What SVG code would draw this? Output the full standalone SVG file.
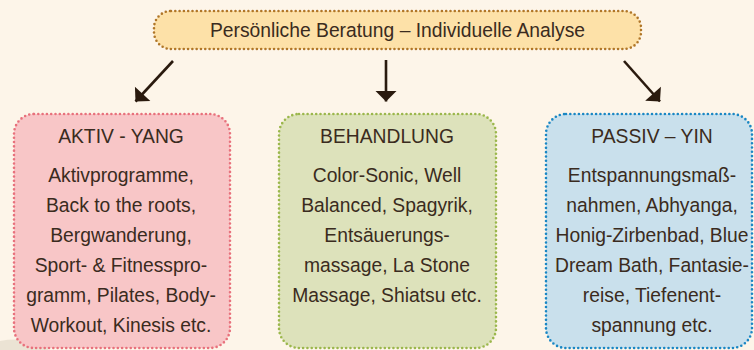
<svg xmlns="http://www.w3.org/2000/svg" width="754" height="350" viewBox="0 0 754 350">
<defs>
<style>
text{font-family:"Liberation Sans",Arial,sans-serif;font-size:19.3px;fill:#3a2b20;text-anchor:middle}
.box{stroke-width:2.6;stroke-dasharray:0 4.3;stroke-linecap:round}
.conn{stroke:#2a1a0e;stroke-width:2.6;fill:none}
</style>
<marker id="ah" viewBox="-11 -11 12 22" refX="0" refY="0" markerWidth="12" markerHeight="22" markerUnits="userSpaceOnUse" orient="auto">
<path d="M-10.5,-10.5 L0,0 L-10.5,10.5 z" fill="#2a1a0e"/>
</marker>
</defs>
<rect width="754" height="350" fill="#fdf5e9"/>
<path d="M0,341 Q20,337 48,344 L48,350 L0,350 z" fill="#ebe3d4"/>
<g id="top">
<rect class="box" x="154" y="11" width="487" height="38" rx="17" fill="#fde1a8" stroke="#b07628"/>
<text x="397.5" y="37">Persönliche Beratung – Individuelle Analyse</text>
</g>
<g id="connectors">
<path class="conn" d="M173,61 L135.5,101.5" marker-end="url(#ah)"/>
<path class="conn" d="M386,60 L386,101.5" marker-end="url(#ah)"/>
<path class="conn" d="M624,61 L660,101.5" marker-end="url(#ah)"/>
</g>
<g id="aktiv">
<rect class="box" x="14" y="114" width="216" height="234" rx="20" fill="#f8c6c7" stroke="#e8717c"/>
<text x="121" y="143">AKTIV - YANG</text>
<text x="121" y="182">Aktivprogramme,</text>
<text x="121" y="212">Back to the roots,</text>
<text x="121" y="242">Bergwanderung,</text>
<text x="121" y="272">Sport- &amp; Fitnesspro-</text>
<text x="121" y="302">gramm, Pilates, Body-</text>
<text x="121" y="332">Workout, Kinesis etc.</text>
</g>
<g id="behandlung">
<rect class="box" x="279" y="114" width="217" height="234" rx="20" fill="#dde2bb" stroke="#9bb74c"/>
<text x="387" y="143">BEHANDLUNG</text>
<text x="387" y="182">Color-Sonic, Well</text>
<text x="387" y="212">Balanced, Spagyrik,</text>
<text x="387" y="242">Entsäuerungs-</text>
<text x="387" y="272">massage, La Stone</text>
<text x="387" y="302">Massage, Shiatsu etc.</text>
</g>
<g id="passiv">
<rect class="box" x="546" y="114" width="206" height="234" rx="20" fill="#c9e0ec" stroke="#1a87c4"/>
<text x="652" y="143">PASSIV – YIN</text>
<text x="652" y="182">Entspannungsmaß-</text>
<text x="652" y="212">nahmen, Abhyanga,</text>
<text x="652" y="242">Honig-Zirbenbad, Blue</text>
<text x="652" y="272">Dream Bath, Fantasie-</text>
<text x="652" y="302">reise, Tiefenent-</text>
<text x="652" y="332">spannung etc.</text>
</g>
</svg>
